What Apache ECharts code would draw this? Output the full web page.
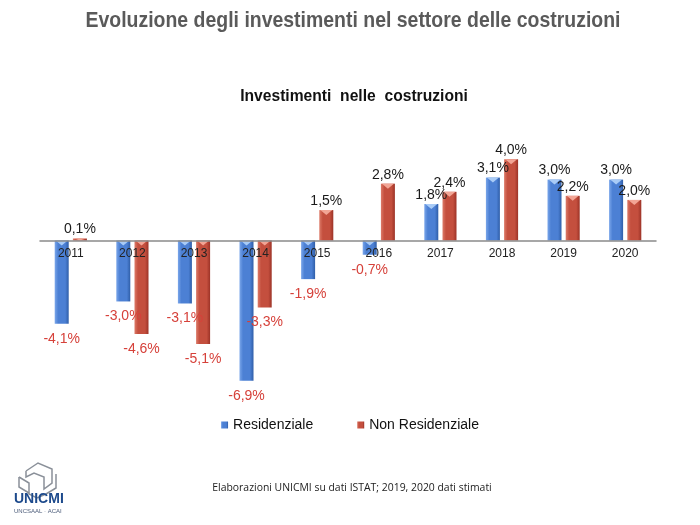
<!DOCTYPE html>
<html><head><meta charset="utf-8">
<script src="https://cdn.jsdelivr.net/npm/echarts@6/dist/echarts.min.js"></script>
<style>html,body{margin:0;padding:0;background:#fff}#c{width:700px;height:525px}</style>
</head><body><div id="c"></div>
<script>
var categories = ['2011','2012','2013','2014','2015','2016','2017','2018','2019','2020'];
var residenziale = [-4.1, -3.0, -3.1, -6.9, -1.9, -0.7, 1.8, 3.1, 3.0, 3.0];
var nonResidenziale = [0.1, -4.6, -5.1, -3.3, 1.5, 2.8, 2.4, 4.0, 2.2, 2.0];
var seriesNames = ['Residenziale', 'Non Residenziale'];

var chart = echarts.init(document.getElementById('c'), null, {renderer:'canvas'});
function fmt(v){ return v.toFixed(1).replace('.', ',') + '%'; }
function build(vals){
  return vals.map(function(v){
    return {value: v, label: {position: v < 0 ? 'bottom' : 'top', distance: v < 0 ? 8 : 2}};
  });
}
function grad(light, mid, dark){
  return new echarts.graphic.LinearGradient(0,0,1,0,[
    {offset:0, color:light},{offset:0.25, color:mid},{offset:0.75, color:mid},{offset:1, color:dark}]);
}
var BW = 14, GAP = 0.3;
var lbl = {
  show: true, fontFamily: 'Liberation Sans, Arial, sans-serif', fontSize: 14,
  formatter: function(p){ return (p.value < 0 ? '{n|' : '{p|') + fmt(p.value) + '}'; },
  rich: { n: {color:'#d6413a', fontSize:14, fontFamily:'Liberation Sans, Arial, sans-serif'},
          p: {color:'#1a1a1a', fontSize:14, fontFamily:'Liberation Sans, Arial, sans-serif'} }
};
function capSeries(vals, side, color){
  return {
    type: 'custom', z: 5, silent: true, data: vals.map(function(v,i){ return [i, v]; }),
    renderItem: function(params, api){
      var v = api.value(1);
      var p0 = api.coord([api.value(0), Math.max(v, 0)]);
      var off = (BW + BW*GAP) / 2 * side;
      var xc = p0[0] + off, y = p0[1];
      var h = Math.min(5, Math.abs(api.coord([0, v])[1] - api.coord([0, 0])[1]));
      return {type: 'polygon', shape: {points: [[xc - BW/2 + 1, y], [xc + BW/2 - 1, y], [xc, y + h]]},
              style: {fill: color}};
    }
  };
}
chart.setOption({
  animation: false,
  legend: {
    data: seriesNames, left: 'center', top: 413, icon: 'rect', itemWidth: 7, itemHeight: 7, itemGap: 44,
    textStyle: {fontFamily: 'Liberation Sans, Arial, sans-serif', fontSize: 14, color: '#111'}
  },
  grid: {left: 40, right: 44, top: 139, height: 264},
  xAxis: {
    type: 'category', data: categories, z: 10, offset: -162.5,
    axisLine: {onZero: false, lineStyle: {color: '#8a8a8a', width: 1.5}},
    axisTick: {show: false},
    axisLabel: {fontFamily: 'Liberation Sans, Arial, sans-serif', fontSize: 12, color: '#222', margin: 7}
  },
  yAxis: {type: 'value', min: -8, max: 5, show: false, splitLine: {show: false}},
  series: [
    {name: seriesNames[0], type: 'bar', barWidth: BW, barGap: (GAP*100)+'%', data: build(residenziale),
     itemStyle: {color: grad('#7aa6ea', '#4c80d4', '#2f5ea8')}, label: lbl},
    {name: seriesNames[1], type: 'bar', barWidth: BW, barGap: (GAP*100)+'%', data: build(nonResidenziale),
     itemStyle: {color: grad('#dc7a68', '#c44f3e', '#9c3327')}, label: lbl},
    capSeries(residenziale, -1, '#a9cbf6'),
    capSeries(nonResidenziale, 1, '#f2a595')
  ],
  graphic: [
    {type: 'text', x: 353, y: 21, scaleX: 0.884, style: {text: 'Evoluzione degli investimenti nel settore delle costruzioni',
      align: 'center', verticalAlign: 'middle',
      fontFamily: 'Liberation Sans, Arial, sans-serif', fontSize: 22, fontWeight: 'bold', fill: '#5a5a5a'}},
    {type: 'text', x: 354, y: 96, scaleX: 0.92, style: {text: 'Investimenti  nelle  costruzioni',
      align: 'center', verticalAlign: 'middle',
      fontFamily: 'Liberation Sans, Arial, sans-serif', fontSize: 17, fontWeight: 'bold', fill: '#111'}},
    {type: 'text', x: 352, y: 488, scaleX: 0.946, style: {text: 'Elaborazioni UNICMI su dati ISTAT; 2019, 2020 dati stimati',
      align: 'center', verticalAlign: 'middle',
      fontFamily: 'Open Sans, sans-serif', fontSize: 11, fill: '#222'}},
    {type: 'group', x: 14, y: 463, children: [
      {type: 'polyline', shape: {points: [[12,8],[24,0],[38,6],[38,20],[30,26],[30,14],[20,10],[12,14],[12,8]]},
       style: {stroke: '#8a9099', fill: 'none', lineWidth: 1.5}},
      {type: 'polyline', shape: {points: [[5,14],[15,20],[15,31],[23,35],[32,31],[42,25],[42,11]]},
       style: {stroke: '#8a9099', fill: 'none', lineWidth: 1.5}},
      {type: 'polyline', shape: {points: [[5,14],[5,24],[15,30]]},
       style: {stroke: '#8a9099', fill: 'none', lineWidth: 1.5}},
      {type: 'text', x: 0, y: 29, style: {text: 'UNICMI', fontFamily: 'Liberation Sans, Arial, sans-serif', fontSize: 14, fontWeight: 'bold', fill: '#1d4a8c'}},
      {type: 'text', x: 0, y: 45, style: {text: 'UNCSAAL · ACAI', fontFamily: 'Liberation Sans, Arial, sans-serif', fontSize: 6, fill: '#4a5a78'}}
    ]}
  ]
});
</script></body></html>
